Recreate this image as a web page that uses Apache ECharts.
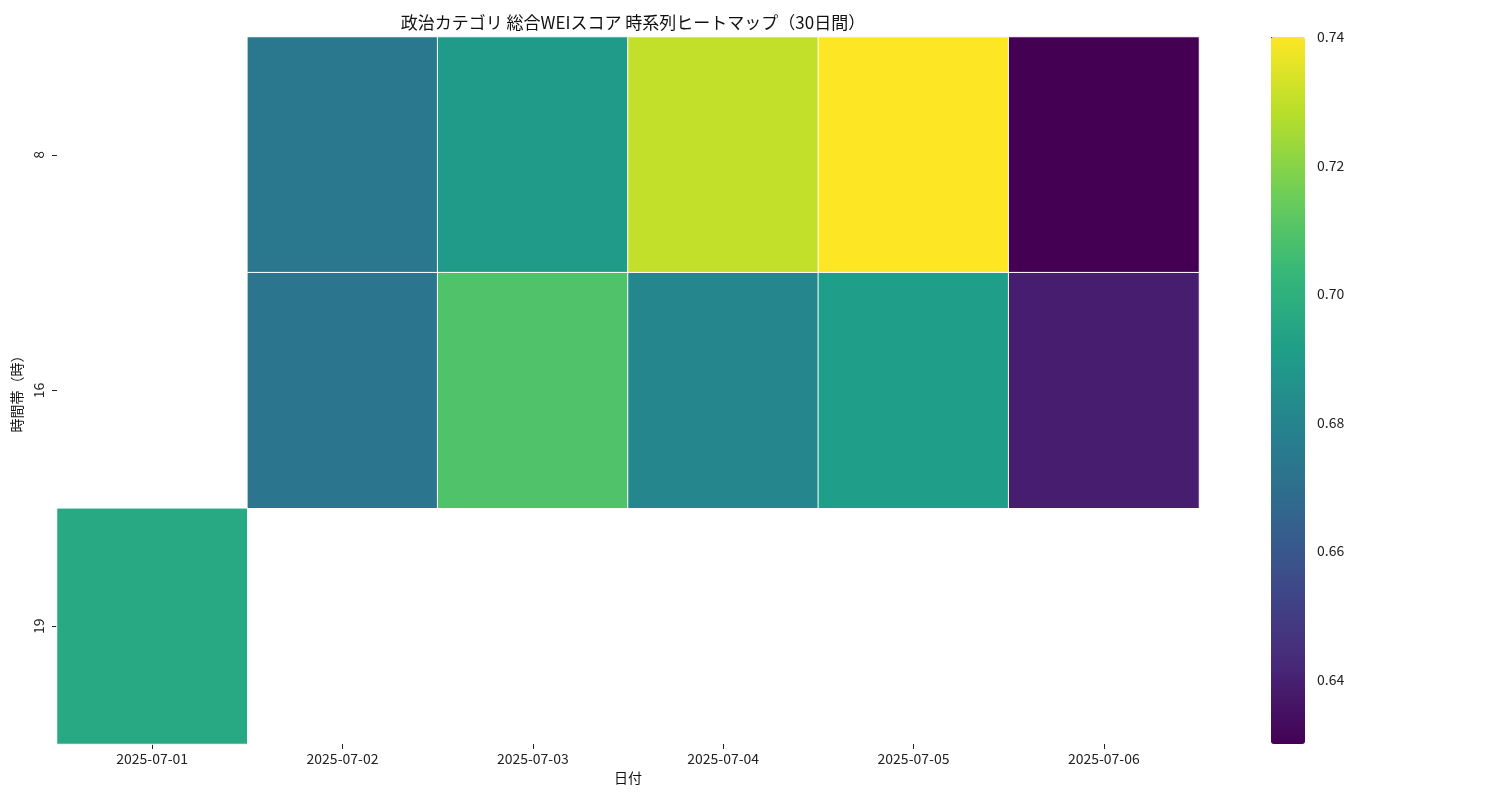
<!DOCTYPE html>
<html><head><meta charset="utf-8">
<script src="https://cdn.jsdelivr.net/npm/echarts@6/dist/echarts.min.js"></script>
<style>html,body{margin:0;padding:0;background:#fff}#c{width:1500px;height:800px}</style>
</head><body><div id="c"></div>
<script>
const dates = ['2025-07-01','2025-07-02','2025-07-03','2025-07-04','2025-07-05','2025-07-06'];
const hours = ['8','16','19'];
const row8  = [null, 0.674, 0.690, 0.730, 0.740, 0.630];
const row16 = [null, 0.673, 0.709, 0.681, 0.691, 0.639];
const row19 = [0.696, null, null, null, null, null];
const scoreMin = 0.63, scoreMax = 0.74;
const cbTicks = [0.64, 0.66, 0.68, 0.70, 0.72, 0.74];

const rows = [row8, row16, row19];
const data = [];
rows.forEach((r, yi) => r.forEach((v, xi) => { if (v !== null) data.push([xi, yi, v]); }));

const viridis = ['#440154','#482878','#3e4989','#31688e','#26828e','#1f9e89','#35b779','#6ece58','#b5de2b','#fde725'];
const font = "'Noto Sans CJK JP', 'Noto Sans', sans-serif";
const chart = echarts.init(document.getElementById('c'));
chart.setOption({
  backgroundColor: '#fff',
  animation: false,
  textStyle: { fontFamily: font },
  title: { text: '政治カテゴリ 総合WEIスコア 時系列ヒートマップ（30日間）', left: 628, top: 9, textAlign: 'center',
    textStyle: { fontSize: 17, fontWeight: 'normal', color: '#111', fontFamily: font } },
  grid: [
    { left: 57, right: 301, top: 37, bottom: 56, outerBoundsMode: 'none' },
    { left: 1271, width: 34, top: 37, height: 707 * 0.12 / 0.11, outerBoundsMode: 'none' }
  ],
  xAxis: [
    { type: 'category', data: dates, gridIndex: 0, name: '日付', nameLocation: 'middle', nameGap: 27,
      nameTextStyle: { fontSize: 14, color: '#111' },
      axisLine: { show: false }, axisTick: { show: true, length: 5, lineStyle: { color: '#222' }, alignWithLabel: true },
      axisLabel: { fontSize: 14, color: '#222', margin: 8 }, splitLine: { show: false } },
    { type: 'value', gridIndex: 1, show: false }
  ],
  yAxis: [
    { type: 'category', data: hours, inverse: true, gridIndex: 0, name: '時間帯（時）', nameLocation: 'middle', nameGap: 33,
      nameTextStyle: { fontSize: 14, color: '#111' },
      axisLine: { show: false }, axisTick: { show: true, length: 5, lineStyle: { color: '#222' }, alignWithLabel: true },
      axisLabel: { fontSize: 14, color: '#222', rotate: 90, margin: 11 }, splitLine: { show: false } },
    { type: 'value', gridIndex: 1, position: 'right', min: 0.62, max: scoreMax, interval: 0.02,
      axisLine: { show: false }, splitLine: { show: false },
      axisTick: { show: true, length: 5, lineStyle: { color: '#222' } },
      axisLabel: { fontSize: 14, color: '#222', margin: 12,
        formatter: v => cbTicks.some(t => Math.abs(t - v) < 1e-6) ? v.toFixed(2) : '' } }
  ],
  visualMap: {
    type: 'continuous', min: scoreMin, max: scoreMax, calculable: false, seriesIndex: 0,
    orient: 'vertical', left: 1271, top: 37, itemWidth: 34, itemHeight: 707, padding: 0,
    text: null, showLabel: false, hoverLink: false,
    inRange: { color: viridis }
  },
  series: [{
    type: 'heatmap', xAxisIndex: 0, yAxisIndex: 0, data: data,
    itemStyle: { borderColor: '#fff', borderWidth: 1 },
    emphasis: { disabled: true }
  }]
});
</script></body></html>
